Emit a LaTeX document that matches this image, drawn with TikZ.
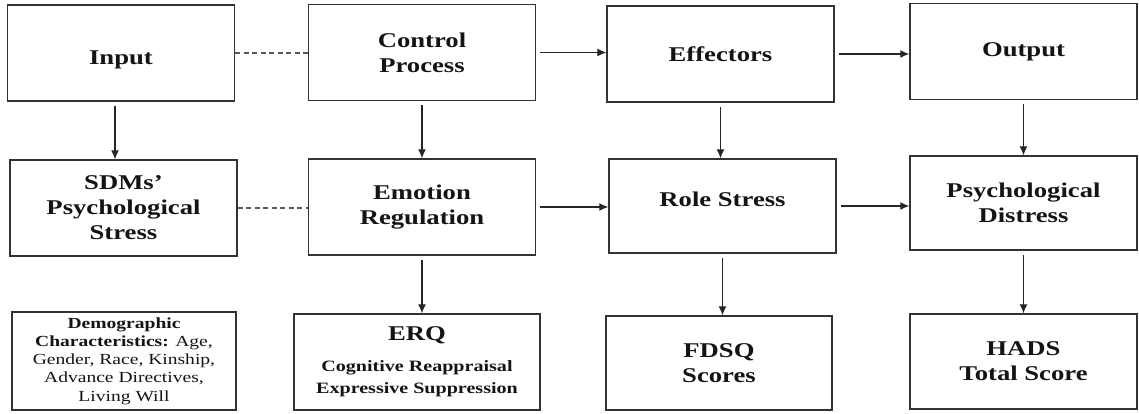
\documentclass[tikz,border=0pt]{standalone}
\usepackage{fontspec}
\setmainfont{Liberation Serif}[FakeStretch=1.27]
\usetikzlibrary{arrows.meta}

\tikzset{
    box/.style={draw=black!80, line width=1.4pt, minimum width=227pt, minimum height=96pt,
        inner sep=0pt, align=center, text=black!92, font=\bfseries\fontsize{21}{25}\selectfont},
    smallbox/.style={box, font=\fontsize{15.4}{18.2}\selectfont},
    flow/.style={-{Latex[length=9pt,width=8pt]}, line width=1.2pt, black!85, shorten <=4pt},
    link/.style={dash pattern=on 5pt off 3.5pt, line width=1.2pt, black!65}
}

\begin{document}
\begin{tikzpicture}[x=1pt, y=-1pt]
    \useasboundingbox (0, 0) rectangle (1139, 413);

    % top row
    \node (input) at (121, 53)[box, text height=28pt]{Input};
    \node (control) at (422, 52.5)[box]{Control\\Process};
    \node (effectors) at (720.5, 54)[box]{Effectors};
    \node (output) at (1023.5, 51.5)[box]{Output};

    % middle row
    \node (sdm) at (123.5, 208)[box]{SDMs’\\Psychological\\Stress};
    \node (emotion) at (422, 207)[box]{Emotion\\Regulation};
    \node (role) at (722.5, 206)[box, minimum height=94pt, text depth=14pt]{Role Stress};
    \node (distress) at (1023.5, 203)[box, minimum height=94pt]{Psychological\\Distress};

    % bottom row
    \node (demo) at (124, 361)[smallbox, minimum width=224pt, minimum height=98pt]{\textbf{Demographic}\\\textbf{Characteristics:} Age,\\Gender, Race, Kinship,\\Advance Directives,\\Living Will};
    \node (erq) at (417, 362)[box, minimum width=246pt, font=\bfseries\fontsize{15.8}{22}\selectfont]{{\fontsize{21}{25}\selectfont ERQ}\\[9pt]Cognitive Reappraisal\\Expressive Suppression};
    \node (fdsq) at (719, 363)[box, minimum width=226pt, minimum height=94pt]{FDSQ\\Scores};
    \node (hads) at (1023.5, 361.5)[box, minimum height=95pt]{HADS\\Total Score};

    % connectors
    \draw[link] (input.east) -- (input.east -| control.west);
    \draw[link] (sdm.east) -- (sdm.east -| emotion.west);
    \draw[flow] ([xshift=-6pt]input.south) -- ([xshift=-6pt]input.south |- sdm.north);
    \foreach \a/\b in {control/emotion, emotion/erq, effectors/role, role/fdsq, output/distress, distress/hads}
        \draw[flow] (\a.south) -- (\a.south |- \b.north);
    \foreach \a/\b in {control/effectors, effectors/output, emotion/role, role/distress}
        \draw[flow] (\a.east) -- (\a.east -| \b.west);
\end{tikzpicture}
\end{document}
